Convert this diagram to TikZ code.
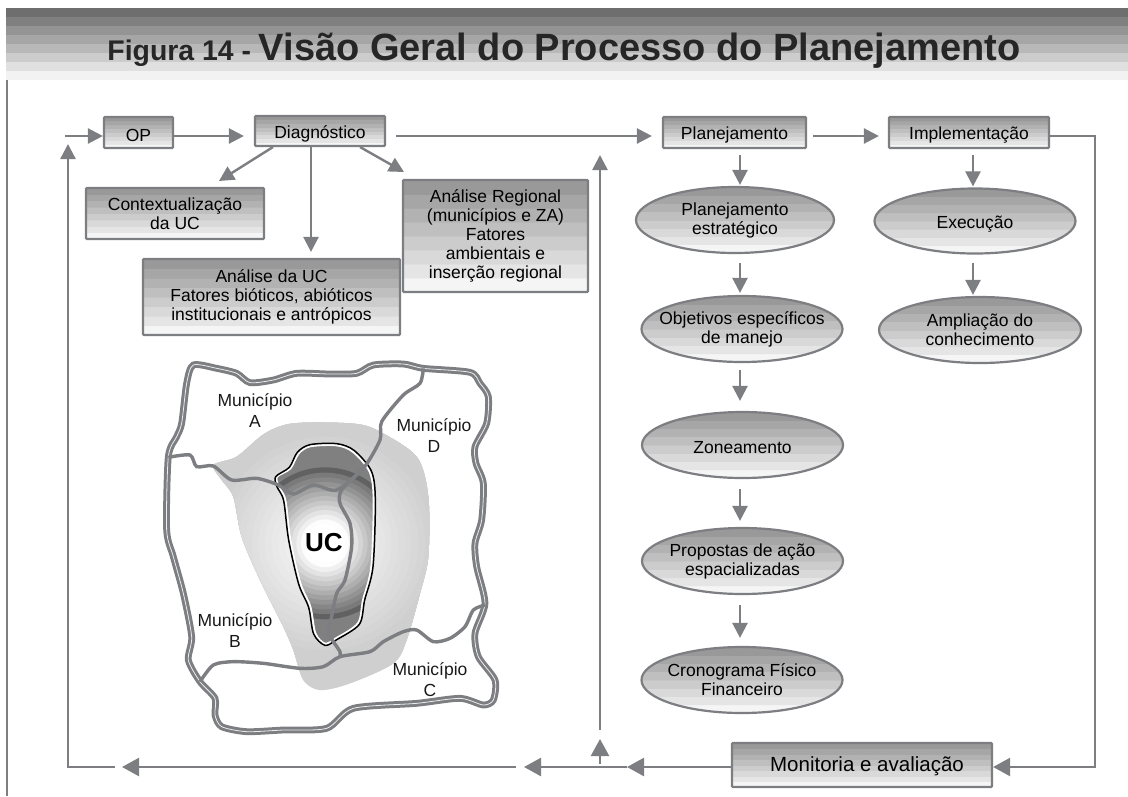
\documentclass[tikz,border=0pt]{standalone}
\usepackage{fontspec}
\setmainfont{Liberation Sans}
\usetikzlibrary{arrows.meta,shapes}
\definecolor{linegray}{RGB}{125,126,129}
\pgfdeclareverticalshading{boxshade}{100bp}{gray(0bp)=(.96); gray(31.2bp)=(.96); gray(31.25bp)=(.90); gray(37.4bp)=(.90); gray(37.5bp)=(.85); gray(43.7bp)=(.85); gray(43.75bp)=(.80); gray(49.9bp)=(.80); gray(50bp)=(.75); gray(56.2bp)=(.75); gray(56.25bp)=(.70); gray(62.4bp)=(.70); gray(62.5bp)=(.65); gray(68.7bp)=(.65); gray(68.75bp)=(.60); gray(100bp)=(.60)}
\pgfdeclareverticalshading{bandshade}{100bp}{gray(0bp)=(.95); gray(31.2bp)=(.95); gray(31.25bp)=(.88); gray(37.4bp)=(.88); gray(37.5bp)=(.80); gray(43.7bp)=(.80); gray(43.75bp)=(.72); gray(49.9bp)=(.72); gray(50bp)=(.65); gray(56.2bp)=(.65); gray(56.25bp)=(.58); gray(62.4bp)=(.58); gray(62.5bp)=(.50); gray(68.7bp)=(.50); gray(68.75bp)=(.43); gray(100bp)=(.43)}
\tikzstyle{stepbox}=[rectangle,draw=linegray,line width=2.2pt,rounded corners=1pt,shading=boxshade,inner sep=0pt,align=center,font=\fontsize{17.5}{19}\selectfont,execute at begin node=\rule{0pt}{18pt}]
\tikzstyle{stepoval}=[ellipse,draw=linegray,line width=2.2pt,shading=boxshade,inner xsep=-20pt,inner ysep=-8pt,align=center,font=\fontsize{17.5}{19}\selectfont,execute at begin node=\rule{0pt}{18pt}]
\tikzstyle{edge}=[draw=linegray,line width=2.4pt,-{Triangle[length=15pt,width=15pt]},linegray]
\tikzstyle{bigedge}=[edge,-{Triangle[length=17pt,width=18pt]}]
\tikzstyle{border}=[draw=linegray,line width=3pt,double=white!85!linegray,double distance=.8pt]
\tikzstyle{road}=[draw=linegray,line width=3.4pt]
\tikzstyle{maplabel}=[align=center,text=black!90,font=\fontsize{17.5}{21}\selectfont]
\begin{document}
\begin{tikzpicture}[x=1pt,y=-1pt]
    \useasboundingbox (0,0) rectangle (1128,796);

    % Frame and title
    \draw[linegray,line width=2pt] (7,8) -- (7,796);
    \node[rectangle,shading=bandshade,minimum width=1122pt,minimum height=71pt,inner sep=0pt,outer sep=0pt] (band) at (567,43.5) {};
    \node[inner sep=0pt,text=black!85] (title) at (564,51) {\bfseries\fontsize{28.4}{30}\selectfont Figura 14 - \fontsize{38}{40}\selectfont Visão Geral do Processo do Planejamento};

    % Boxes
    \foreach \pos/\name/\bw/\bh/\label in {{(138.5,132.5)/op/69/31/OP}, {(320,131)/diag/130/30/Diagnóstico}, {(175,213.5)/ctx/178/51/Contextualização\\da UC}, {(271.5,297)/anuc/257/76/Análise da UC\\Fatores bióticos, abióticos\\institucionais e antrópicos}, {(495.5,236)/anreg/185/112/Análise Regional\\(municípios e ZA)\\Fatores\\ambientais e\\inserção regional}, {(734.5,132.5)/plan/143/31/Planejamento}, {(969,132.5)/impl/160/31/Implementação}}
        \node[stepbox,minimum width=\bw pt,minimum height=\bh pt] (\name) at \pos {\label};
    \node[stepbox,minimum width=260pt,minimum height=44pt,font=\fontsize{20.5}{22}\selectfont] (monit) at (862,765) {\hspace*{10pt}Monitoria e avaliação};

    % Ovals
    \foreach \pos/\name/\bw/\bh/\label in {{(735,220)/pe/198/66/Planejamento\\estratégico}, {(742,329)/obj/201/66/Objetivos específicos\\de manejo}, {(742.5,445)/zon/201/66/Zoneamento}, {(742.5,561)/prop/201/66/Propostas de ação\\espacializadas}, {(742,680)/cron/201/66/Cronograma Físico\\Financeiro}, {(975,221)/exec/201/65/Execução}, {(980,330)/ampl/202/66/Ampliação do\\conhecimento}}
        \node[stepoval,minimum width=\bw pt,minimum height=\bh pt] (\name) at \pos {\label};

    % Helper points
    \coordinate (in) at (65,136);
    \coordinate (cl) at (740,0);
    \coordinate (cr) at (973,0);
    \coordinate (rb) at (1095,767);
    \coordinate (j1) at (627,767);
    \coordinate (j2) at (524,767);
    \coordinate (j3) at (516,767);
    \coordinate (j4) at (122,767);
    \coordinate (j5) at (115,767);
    \coordinate (lb) at (68,767);
    \coordinate (lt) at (68,144);
    \coordinate (v1) at (600,764);
    \coordinate (v2) at (600,739);
    \coordinate (v3) at (600,730);
    \coordinate (v4) at (600,155);
    \coordinate (d1) at (273,147);
    \coordinate (d2) at (219,181);
    \coordinate (d3) at (360,147);
    \coordinate (d4) at (404,172);
    \coordinate (d5) at (311,0);

    % Edges
    \path[edge] (in) -- (in -| op.west);
    \path[edge,shorten >=10pt] (in -| op.east) -- (in -| diag.west);
    \path[edge,shorten <=10pt,shorten >=10pt] (in -| diag.east) -- (in -| plan.west);
    \path[edge,shorten <=6pt,shorten >=9pt] (in -| plan.east) -- (in -| impl.west);
    \path[bigedge] (in -| impl.east) -| (rb) -- (rb -| monit.east);
    \path[bigedge] (rb -| monit.west) -- (j1);
    \path[bigedge] (j1) -- (j2);
    \path[bigedge] (j3) -- (j4);
    \path[edge] (j5) -| (lb) -- (lt);
    \path[bigedge] (v1) -- (v2);
    \path[edge] (v3) -- (v4);
    \path[edge] (d1) -- (d2);
    \path[edge] (d3) -- (d4);
    \path[edge,shorten >=6pt] (diag.south -| d5) -- (anuc.north -| d5);

    \foreach \source/\dest/\gapa/\gapb in {plan/pe/6/1, pe/obj/9/2, obj/zon/7/10, zon/prop/10/6, prop/cron/10/8}
        \path[edge,shorten <=\gapa pt,shorten >=\gapb pt] (\source.south -| cl) -- (\dest.north -| cl);
    \foreach \source/\dest/\gapa/\gapb in {impl/exec/6/1, exec/ampl/8/1}
        \path[edge,shorten <=\gapa pt,shorten >=\gapb pt] (\source.south -| cr) -- (\dest.north -| cr);

    % Map
    \begin{scope}[shift={(150,340)},x=1/3*1pt,y=-1/3*1pt]
        \begin{scope}
            \clip plot[smooth cycle] coordinates {(190,375) (260,350) (345,280) (430,250) (600,250) (680,270) (800,350) (835,470) (835,650) (810,760) (770,900) (730,970) (600,1030) (510,1050) (460,1020) (430,930) (400,860) (330,720) (275,590) (250,470) (215,420)};
            \foreach \r in {460,440,...,20} {
                \pgfmathsetmacro\lev{min(19,\r*0.055)}
                \fill[black!\lev] (525,610) circle (\r);
            }
        \end{scope}
        \begin{scope}
            \clip plot[smooth cycle] coordinates {(380,410) (420,385) (445,340) (480,318) (560,315) (610,335) (660,395) (672,480) (665,680) (640,780) (625,850) (560,895) (525,912) (495,880) (480,800) (450,730) (420,600) (405,480) (385,440)};
            \fill[black!50] (525,610) circle (400);
            \fill[black!62] (525,610) circle (228);
            \foreach \r in {212,198,...,30} {
                \pgfmathsetmacro\lev{max(0,min(52,(\r-70)*0.37))}
                \fill[black!\lev] (525,610) circle (\r);
            }
        \end{scope}
        \draw[white,line width=2.6pt] plot[smooth cycle] coordinates {(380,410) (420,385) (445,340) (480,318) (560,315) (610,335) (660,395) (672,480) (665,680) (640,780) (625,850) (560,895) (525,912) (495,880) (480,800) (450,730) (420,600) (405,480) (385,440)};
        \draw[black,line width=1.5pt] plot[smooth cycle] coordinates {(377,410) (418,382) (442,337) (480,314) (560,311) (612,331) (664,393) (676,480) (669,680) (644,780) (628,853) (560,899) (525,916) (491,882) (476,802) (446,732) (416,600) (401,482) (381,440)};
        \path[border] plot[smooth cycle,tension=.45] coordinates {(130,75) (200,85) (260,100) (300,128) (370,120) (440,100) (540,102) (620,100) (670,75) (760,72) (820,85) (960,97) (990,130) (1015,170) (1010,250) (975,320) (978,370) (1000,430) (995,540) (975,610) (980,680) (1005,790) (975,880) (985,950) (1035,1020) (1030,1080) (1000,1095) (930,1075) (800,1090) (610,1105) (530,1165) (400,1170) (290,1175) (215,1160) (195,1125) (195,1075) (150,1025) (115,960) (125,890) (100,760) (70,650) (50,570) (55,350) (80,290) (95,250) (110,130)};
        \path[road] plot[smooth,tension=.45] coordinates {(55,352) (120,345) (140,380) (190,378) (245,420) (320,415) (385,435) (430,462) (490,435) (560,450) (640,385) (690,300) (695,245) (760,165) (810,130) (820,85)};
        \path[road] plot[smooth,tension=.45] coordinates {(640,385) (575,450) (570,490) (600,550) (605,620) (585,720) (560,760) (545,830) (535,880) (550,905) (570,935) (570,950)};
        \path[road] plot[smooth,tension=.45] coordinates {(150,1025) (190,975) (250,965) (340,970) (450,985) (520,980) (570,950) (660,935) (700,905) (760,875) (800,870) (850,905) (900,895) (945,860) (970,810) (1005,795)};
    \end{scope}
    \node[inner sep=0pt,font=\bfseries\fontsize{26}{28}\selectfont] (uc) at (324,543) {UC};
    \foreach \pos/\name/\label in {{(255,411)/mua/Município\\A}, {(434,436)/mud/Município\\D}, {(235,631)/mub/Município\\B}, {(430,680)/muc/Município\\C}}
        \node[maplabel,inner sep=0pt] (\name) at \pos {\label};
\end{tikzpicture}
\end{document}
